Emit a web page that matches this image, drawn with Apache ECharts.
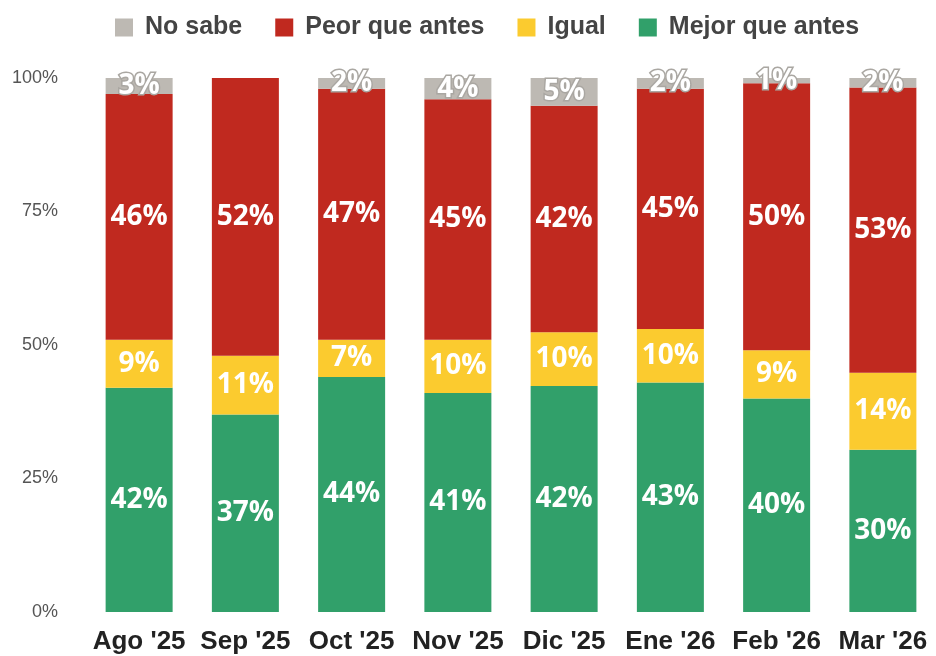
<!DOCTYPE html>
<html>
<head>
<meta charset="utf-8">
<script src="https://cdn.jsdelivr.net/npm/echarts@6/dist/echarts.min.js"></script>
<style>
  html, body { margin: 0; padding: 0; background: #fff; }
  #chart { width: 936px; height: 656px; }
</style>
</head>
<body>
<div id="chart"></div>
<script>
const months = ["Ago '25", "Sep '25", "Oct '25", "Nov '25", "Dic '25", "Ene '26", "Feb '26", "Mar '26"]
const mejor = [42, 37, 44, 41, 42.3, 43, 40, 30.4]
const igual = [9, 11, 7, 10, 10.1, 10, 9, 14.4]
const peor = [46, 52, 47, 45, 42.4, 45, 50, 53.4]
const noSabe = [3, 0, 2, 4, 5.2, 2, 1, 1.8]
const yTicks = [0, 25, 50, 75, 100]

const colors = {
  noSabe: '#bdb9b3',
  peor: '#c0291f',
  igual: '#fbcb2f',
  mejor: '#31a06a'
}

const labelFmt = p => (p.value ? Math.round(p.value) + '%' : '')

function barSeries(name, data, color, extraLabel) {
  return {
    name,
    type: 'bar',
    stack: 'total',
    barWidth: 67,
    data,
    itemStyle: { color },
    label: Object.assign({
      show: true,
      position: 'inside',
      formatter: labelFmt,
      color: '#fff',
      fontFamily: 'Open Sans',
      fontWeight: 'bold',
      fontSize: 28
    }, extraLabel || {})
  }
}

const chart = echarts.init(document.getElementById('chart'))
chart.setOption({
  animation: false,
  legend: {
    top: 10,
    left: 110,
    data: ['No sabe', 'Peor que antes', 'Igual', 'Mejor que antes'],
    itemWidth: 18,
    itemHeight: 18,
    itemGap: 33,
    icon: 'rect',
    textStyle: {
      fontFamily: 'Liberation Sans',
      fontWeight: 'bold',
      fontSize: 25,
      color: '#444',
      padding: [0, 0, 0, 7]
    }
  },
  grid: { left: 86, right: -8, top: 78, bottom: 44 },
  xAxis: {
    type: 'category',
    data: months,
    axisLine: { show: false },
    axisTick: { show: false },
    axisLabel: {
      interval: 0,
      hideOverlap: false,
      margin: 17,
      fontFamily: 'Liberation Sans',
      fontWeight: 'bold',
      fontSize: 26,
      color: '#222'
    }
  },
  yAxis: {
    type: 'value',
    min: yTicks[0],
    max: yTicks[yTicks.length - 1],
    interval: yTicks[1] - yTicks[0],
    splitLine: { show: false },
    axisLine: { show: false },
    axisTick: { show: false },
    axisLabel: {
      margin: 28,
      formatter: '{value}%',
      fontFamily: 'Liberation Sans',
      fontSize: 18,
      color: '#555'
    }
  },
  series: [
    barSeries('Mejor que antes', mejor, colors.mejor),
    barSeries('Igual', igual, colors.igual),
    barSeries('Peor que antes', peor, colors.peor),
    barSeries('No sabe', noSabe, colors.noSabe, {
      textBorderColor: '#aaa7a2',
      textBorderWidth: 3
    })
  ]
})
</script>
</body>
</html>
